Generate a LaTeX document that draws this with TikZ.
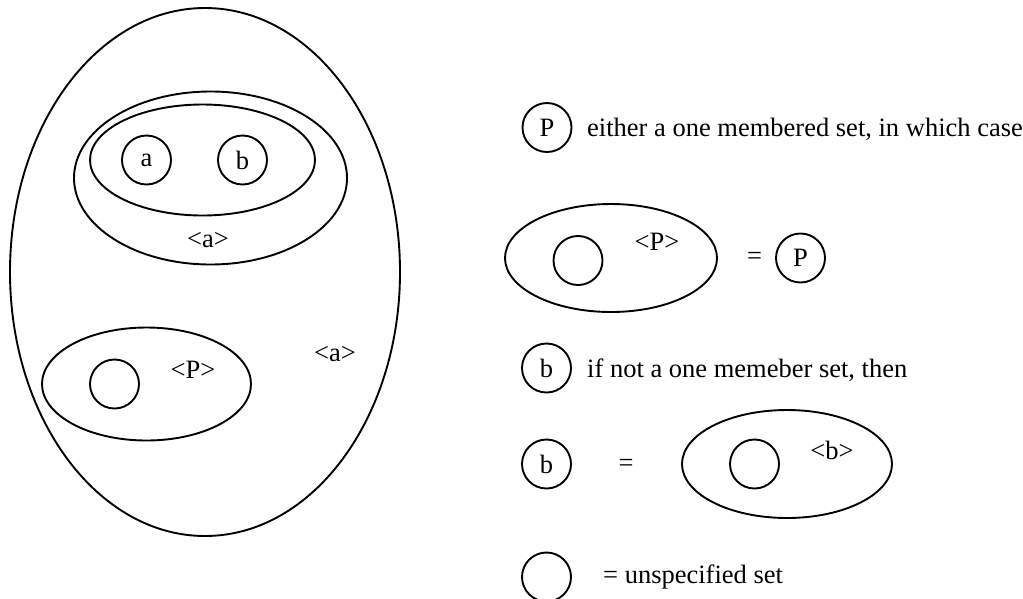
\documentclass[tikz,border=0pt]{standalone}
\usepackage{fontspec}
\setmainfont{Liberation Serif}
\usetikzlibrary{shapes.geometric}
\begin{document}
\begin{tikzpicture}[x=1pt,y=-1pt,
  every node/.style={font=\fontsize{26.5}{30}\selectfont, inner sep=0pt},
  setline/.style={draw, line width=1.9pt},
  elem/.style={setline, circle, minimum size=49pt},
  oval/.style={setline, ellipse},
  txt/.style={anchor=base west}]
\useasboundingbox (0,0) rectangle (1023,598);

% ---- left figure ----
\node[oval, minimum width=390pt, minimum height=528pt] (big) at (205,272) {};
\node[oval, minimum width=273pt, minimum height=173pt] (outa) at (210.5,178) {};
\node[oval, minimum width=225pt, minimum height=111pt] (ina) at (202.5,160) {};
\node[elem] (ca) at (146.5,160) {a};
\node[elem] (cb) at (242.5,160) {b};
\node (la1) at (208,240.5) {<a>};
\node[oval, minimum width=209pt, minimum height=113pt] (pset) at (146.5,384) {};
\node[elem] (pe) at (114.5,384) {};
\node (lp1) at (193,370) {<P>};
\node (la2) at (335,354) {<a>};

% ---- right legend ----
\node[elem] (P1) at (547,127.5) {P};
\node[txt] (t1) at (587,136) {either a one membered set, in which case};

\node[oval, minimum width=212pt, minimum height=108pt] (pe2) at (611,258) {};
\node[elem] (pe2c) at (578,260.5) {};
\node (lp2) at (657,242) {<P>};
\node (eq1) at (754.5,258) {=};
\node[elem] (P2) at (800.5,258) {P};

\node[elem] (b1) at (546.5,368) {b};
\node[txt] (t2) at (587,377) {if not a one memeber set, then};

\node[elem] (b2) at (546.5,464) {b};
\node (eq2) at (626,465) {=};
\node[oval, minimum width=210pt, minimum height=108pt] (be) at (787,464) {};
\node[elem] (bec) at (754.5,464) {};
\node (lb) at (832,450) {<b>};

\node[elem] (u) at (546.5,577) {};
\node[txt] (t3) at (603,583) {= unspecified set};
\end{tikzpicture}
\end{document}
